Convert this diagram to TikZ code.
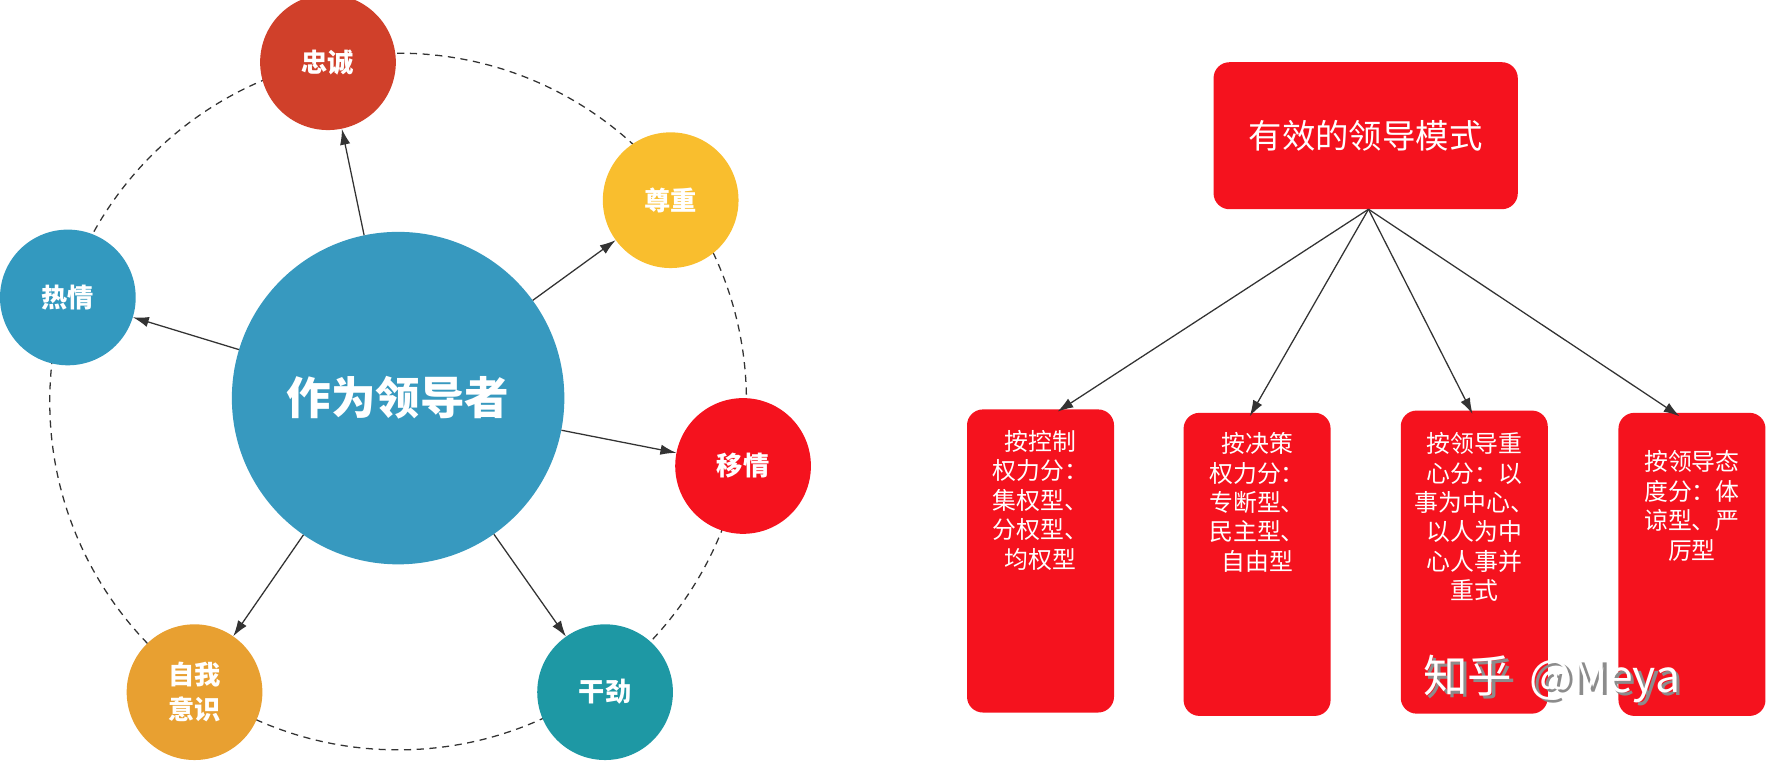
\documentclass[tikz,border=0pt]{standalone}
\usepackage{fontspec}
\setmainfont{Noto Sans CJK SC}
\usetikzlibrary{arrows.meta}
\definecolor{cA}{HTML}{D0402A}\definecolor{cB}{HTML}{F9BE2E}\definecolor{cC}{HTML}{3399BF}
\definecolor{cD}{HTML}{F5121E}\definecolor{cE}{HTML}{1E98A4}\definecolor{cF}{HTML}{E8A031}
\definecolor{cG}{HTML}{3799BF}
\tikzset{
 sm/.style={circle,minimum size=6cm,inner sep=0pt,text=white,font=\bfseries\fontsize{33}{40}\selectfont,align=center},
 arr/.style={-{Latex[length=20pt,width=13pt]},line width=1.6pt,draw=black!80},
 rbox/.style={fill=cD,rounded corners=20pt,text=white,align=center},
 btxt/.style={anchor=north,align=center,text=white,font=\fontsize{30}{37}\selectfont},
}
\begin{document}
\begin{tikzpicture}[x=0.05cm,y=-0.05cm]
\useasboundingbox (0,0) rectangle (1565,680);
\draw[dash pattern=on 9pt off 7pt,line width=1.6pt,black!80] (352,355) circle (308);
\node[sm,fill=cG,minimum size=14.7cm,font=\bfseries\fontsize{56}{60}\selectfont] (c) at (352,352) {作为领导者};
\node[sm,fill=cA] (a) at (290,55) {忠诚};
\node[sm,fill=cB] (b) at (593,177) {尊重};
\node[sm,fill=cC] (h) at (60,263) {热情};
\node[sm,fill=cD] (y) at (657,412) {移情};
\node[sm,fill=cE] (g) at (535,612) {干劲};
\node[sm,fill=cF,font=\bfseries\fontsize{33}{44}\selectfont] (z) at (172,612) {自我\\意识};
\foreach \t in {a,b,h,y,g,z} \draw[arr] (c) -- (\t);
\node[rbox,minimum width=13.45cm,minimum height=6.5cm,font=\fontsize{42}{48}\selectfont] (top) at (1207.5,120) {有效的领导模式};
\tikzset{lb/.style={rbox,minimum width=6.5cm,minimum height=13.4cm}}
\node[lb] (p1) at (920,496) {};
\node[btxt] at (920,378) {按控制\\权力分：\\集权型、\\分权型、\\均权型};
\node[lb] (p2) at (1111.5,499) {};
\node[btxt] at (1111.5,380) {按决策\\权力分：\\专断型、\\民主型、\\自由型};
\node[lb] (p3) at (1303.5,497) {};
\node[btxt] at (1303.5,380) {按领导重\\心分：以\\事为中心、\\以人为中\\心人事并\\重式};
\node[lb] (p4) at (1496,499) {};
\node[btxt] at (1496,396) {按领导态\\度分：体\\谅型、严\\厉型};
\coordinate (o) at (1210,185);
\draw[arr] (o) -- (935,364);
\draw[arr] (o) -- (1105,368);
\draw[arr] (o) -- (1302,366);
\draw[arr] (o) -- (1485,368);
\node[text=black!45,font=\fontsize{56}{60}\selectfont,anchor=west] at (1259,603) {知乎 \,@Meya};
\node[text=white,font=\fontsize{56}{60}\selectfont,anchor=west] (wm) at (1256,600) {知乎 \,@Meya};
\end{tikzpicture}
\end{document}
